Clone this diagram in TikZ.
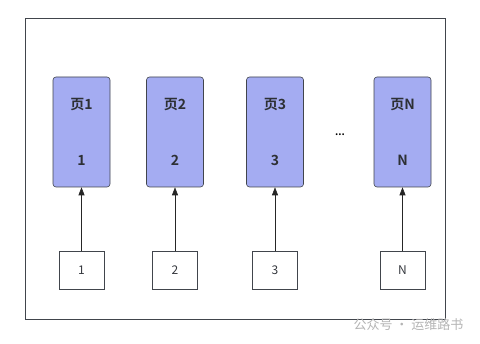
\documentclass[tikz,border=0pt]{standalone}
\usepackage{fontspec}
\setmainfont{Noto Sans CJK SC}[BoldFont={Noto Sans CJK SC Bold}]
\usetikzlibrary{arrows.meta,positioning}
\definecolor{pagec}{HTML}{A4ACF2}
\definecolor{linec}{HTML}{41454C}
\definecolor{markc}{HTML}{B4B4B4}
\tikzset{
  pg/.style={draw=linec, fill=pagec, rounded corners=3pt, semithick,
             minimum width=57pt, minimum height=110pt, align=center,
             font=\fontsize{14}{16}\selectfont\bfseries, text=linec!70!black, inner sep=0pt},
  idx/.style={draw=linec, semithick, minimum width=45pt, minimum height=38pt,
              font=\fontsize{12}{14}\selectfont, text=linec!80!black},
  arr/.style={-{Triangle[length=8pt,width=6pt]}, semithick, black!85},
}
\begin{document}
\begin{tikzpicture}[x=1pt,y=-1pt]
\useasboundingbox (0,0) rectangle (480,344);
\draw[linec, thick] (25,18) rectangle (445,319);
% pages
\node[pg] (p1) at (81.5,132) {页1\\[40pt]1};
\node[pg] (p2) at (175,132) {页2\\[40pt]2};
\node[pg] (p3) at (275,132) {页3\\[40pt]3};
\node[pg] (pN) at (402.5,132) {页N\\[40pt]N};
\node[font=\bfseries] (dots) at (340,135) {...};
% indexes
\node[idx, below=64pt of p1] (i1) {1};
\node[idx, below=64pt of p2] (i2) {2};
\node[idx, below=64pt of p3] (i3) {3};
\node[idx, below=64pt of pN] (iN) {N};
\foreach \k in {1,2,3,N}
  \draw[arr] (i\k) -- (p\k);
\node[text=markc, font=\fontsize{13}{15}\selectfont, anchor=west] (mark) at (350,325) {公众号 · 运维路书};
\end{tikzpicture}
\end{document}
